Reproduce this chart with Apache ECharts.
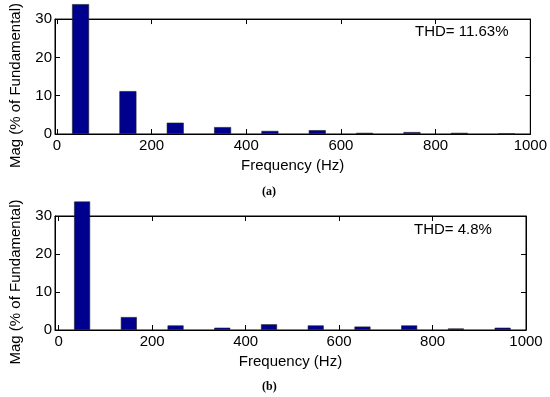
<!DOCTYPE html>
<html>
<head>
<meta charset="utf-8">
<script src="https://cdn.jsdelivr.net/npm/echarts@6/dist/echarts.min.js"></script>
<style>
html,body{margin:0;padding:0;background:#fff;}
#main{width:550px;height:397px;}
</style>
</head>
<body>
<div id="main"></div>
<script>
// Data
const freqs = [50, 150, 250, 350, 450, 550, 650, 750, 850, 950];
const magA = [33.9, 11.2, 2.95, 1.8, 0.8, 1.0, 0.3, 0.5, 0.3, 0.1];
const magB = [33.8, 3.4, 1.2, 0.6, 1.5, 1.2, 0.9, 1.2, 0.4, 0.6];
const xTicks = [0, 200, 400, 600, 800, 1000];
const yTicks = [0, 10, 20, 30];
const thdA = 'THD= 11.63%';
const thdB = 'THD= 4.8%';
const xName = 'Frequency (Hz)';
const yName = 'Mag (% of Fundamental)';

const FONT = 'Liberation Sans, Arial, sans-serif';
const FS = 15;
const chart = echarts.init(document.getElementById('main'), null, {renderer: 'canvas'});

const grids = [
  {left: 51, right: 19, top: 19, height: 115, show: true, borderColor: '#000', borderWidth: 1},
  {left: 52, right: 24, top: 216, height: 114, show: true, borderColor: '#000', borderWidth: 1}
];
const xMins = [-4, -8];

function xAxes(i) {
  return [
    {
      type: 'value', gridIndex: i, min: xMins[i], max: 1000, position: 'bottom',
      axisLine: {show: true, onZero: false, lineStyle: {color: '#000', width: 1}},
      axisTick: {show: true, inside: true, length: 5, customValues: xTicks, lineStyle: {color: '#000'}},
      axisLabel: {show: true, customValues: xTicks, color: '#000', fontSize: FS, fontFamily: FONT, margin: 4,
        formatter: v => String(v), showMinLabel: true, showMaxLabel: true},
      splitLine: {show: false},
      name: xName, nameLocation: 'middle', nameGap: 24,
      nameTextStyle: {color: '#000', fontSize: FS, fontFamily: FONT}
    },
    {
      type: 'value', gridIndex: i, min: xMins[i], max: 1000, position: 'top',
      axisLine: {show: true, onZero: false, lineStyle: {color: '#000', width: 1}},
      axisTick: {show: true, inside: true, length: 5, customValues: xTicks, lineStyle: {color: '#000'}},
      axisLabel: {show: false},
      splitLine: {show: false}
    }
  ];
}
function yAxes(i) {
  return [
    {
      type: 'value', gridIndex: i, min: 0, max: 30, interval: 10, position: 'left',
      axisLine: {show: true, onZero: false, lineStyle: {color: '#000', width: 1}},
      axisTick: {show: true, inside: true, length: 5, lineStyle: {color: '#000'}},
      axisLabel: {color: '#000', fontSize: FS, fontFamily: FONT, margin: 3},
      splitLine: {show: false},
      name: yName, nameLocation: 'middle', nameGap: 32, nameRotate: 90,
      nameTextStyle: {color: '#000', fontSize: FS, fontFamily: FONT, padding: [0, 18, 0, 0]}
    },
    {
      type: 'value', gridIndex: i, min: 0, max: 30, interval: 10, position: 'right',
      axisLine: {show: true, onZero: false, lineStyle: {color: '#000', width: 1}},
      axisTick: {show: true, inside: true, length: 5, lineStyle: {color: '#000'}},
      axisLabel: {show: false},
      splitLine: {show: false}
    }
  ];
}

const option = {
  animation: false,
  backgroundColor: '#fff',
  grid: grids,
  xAxis: [].concat(xAxes(0), xAxes(1)),
  yAxis: [].concat(yAxes(0), yAxes(1)),
  series: [
    {
      type: 'bar', xAxisIndex: 0, yAxisIndex: 0, clip: false, barWidth: 17, z: 5,
      data: freqs.map((f, k) => [f, magA[k]]),
      itemStyle: {color: '#00008F', borderColor: '#222', borderWidth: 0.6}
    },
    {
      type: 'bar', xAxisIndex: 2, yAxisIndex: 2, clip: false, barWidth: 16, z: 5,
      data: freqs.map((f, k) => [f, magB[k]]),
      itemStyle: {color: '#00008F', borderColor: '#222', borderWidth: 0.6}
    }
  ],
  graphic: [
    {type: 'text', left: 415, top: 24, style: {text: thdA, fill: '#000', font: FS + 'px ' + FONT}},
    {type: 'text', left: 414, top: 222, style: {text: thdB, fill: '#000', font: FS + 'px ' + FONT}},
    {type: 'text', left: 262, top: 186, style: {text: '(a)', fill: '#000', font: 'bold 12px "Liberation Serif", "Times New Roman", serif'}},
    {type: 'text', left: 262, top: 381, style: {text: '(b)', fill: '#000', font: 'bold 12px "Liberation Serif", "Times New Roman", serif'}}
  ]
};
chart.setOption(option);
</script>
</body>
</html>
